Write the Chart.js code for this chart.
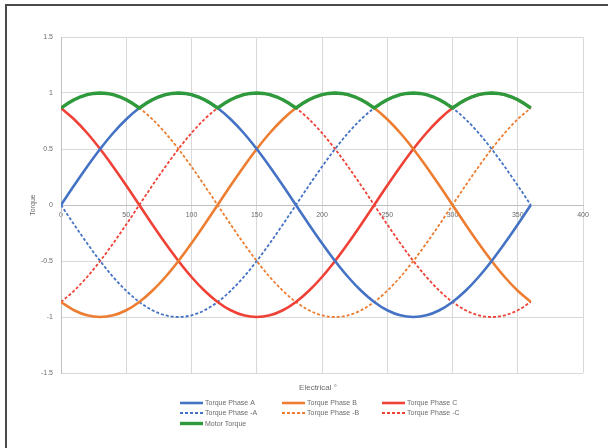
<!DOCTYPE html>
<html>
<head>
<meta charset="utf-8">
<script src="https://cdn.jsdelivr.net/npm/chart.js@4/dist/chart.umd.min.js"></script>
<style>
  html, body { margin: 0; padding: 0; background: #fff; overflow: hidden; }
  #frame { position: absolute; left: 5px; top: 4px; width: 640px; height: 480px;
           border-top: 2px solid #4a4a4a; border-left: 2px solid #4a4a4a; }
  #c { position: absolute; left: 0; top: 0; }
</style>
</head>
<body>
<div id="frame"></div>
<canvas id="c" width="608" height="448"></canvas>
<script>
// electrical angle (degrees)
var angles = [0,10,20,30,40,50,60,70,80,90,100,110,120,130,140,150,160,170,180,
              190,200,210,220,230,240,250,260,270,280,290,300,310,320,330,340,350,360];

var phaseA    = [0,0.174,0.342,0.5,0.643,0.766,0.866,0.94,0.985,1,0.985,0.94,0.866,0.766,0.643,0.5,0.342,0.174,0,
                 -0.174,-0.342,-0.5,-0.643,-0.766,-0.866,-0.94,-0.985,-1,-0.985,-0.94,-0.866,-0.766,-0.643,-0.5,-0.342,-0.174,0];
var phaseB    = [-0.866,-0.94,-0.985,-1,-0.985,-0.94,-0.866,-0.766,-0.643,-0.5,-0.342,-0.174,0,0.174,0.342,0.5,0.643,0.766,0.866,
                 0.94,0.985,1,0.985,0.94,0.866,0.766,0.643,0.5,0.342,0.174,0,-0.174,-0.342,-0.5,-0.643,-0.766,-0.866];
var phaseC    = [0.866,0.766,0.643,0.5,0.342,0.174,0,-0.174,-0.342,-0.5,-0.643,-0.766,-0.866,-0.94,-0.985,-1,-0.985,-0.94,-0.866,
                 -0.766,-0.643,-0.5,-0.342,-0.174,0,0.174,0.342,0.5,0.643,0.766,0.866,0.94,0.985,1,0.985,0.94,0.866];
var phaseNegA = [0,-0.174,-0.342,-0.5,-0.643,-0.766,-0.866,-0.94,-0.985,-1,-0.985,-0.94,-0.866,-0.766,-0.643,-0.5,-0.342,-0.174,0,
                 0.174,0.342,0.5,0.643,0.766,0.866,0.94,0.985,1,0.985,0.94,0.866,0.766,0.643,0.5,0.342,0.174,0];
var phaseNegB = [0.866,0.94,0.985,1,0.985,0.94,0.866,0.766,0.643,0.5,0.342,0.174,0,-0.174,-0.342,-0.5,-0.643,-0.766,-0.866,
                 -0.94,-0.985,-1,-0.985,-0.94,-0.866,-0.766,-0.643,-0.5,-0.342,-0.174,0,0.174,0.342,0.5,0.643,0.766,0.866];
var phaseNegC = [-0.866,-0.766,-0.643,-0.5,-0.342,-0.174,0,0.174,0.342,0.5,0.643,0.766,0.866,0.94,0.985,1,0.985,0.94,0.866,
                 0.766,0.643,0.5,0.342,0.174,0,-0.174,-0.342,-0.5,-0.643,-0.766,-0.866,-0.94,-0.985,-1,-0.985,-0.94,-0.866];

// motor torque read at finer steps so the cusps stay sharp
var motorAngles = [0,5,10,15,20,25,30,35,40,45,50,55,60,65,70,75,80,85,90,95,100,105,110,115,120,
                   125,130,135,140,145,150,155,160,165,170,175,180,185,190,195,200,205,210,215,220,225,230,235,240,
                   245,250,255,260,265,270,275,280,285,290,295,300,305,310,315,320,325,330,335,340,345,350,355,360];
var motorTorque = [0.866,0.906,0.94,0.966,0.985,0.996,1,0.996,0.985,0.966,0.94,0.906,
                   0.866,0.906,0.94,0.966,0.985,0.996,1,0.996,0.985,0.966,0.94,0.906,
                   0.866,0.906,0.94,0.966,0.985,0.996,1,0.996,0.985,0.966,0.94,0.906,
                   0.866,0.906,0.94,0.966,0.985,0.996,1,0.996,0.985,0.966,0.94,0.906,
                   0.866,0.906,0.94,0.966,0.985,0.996,1,0.996,0.985,0.966,0.94,0.906,
                   0.866,0.906,0.94,0.966,0.985,0.996,1,0.996,0.985,0.966,0.94,0.906,0.866];

var names = ["Torque Phase A", "Torque Phase B", "Torque Phase C",
             "Torque Phase -A", "Torque Phase -B", "Torque Phase -C", "Motor Torque"];
var xTitle = "Electrical °";
var yTitle = "Torque";

var blue = '#4472c4', orange = '#ed7d31', red = '#ef4136', green = '#2e9a3c';
var textGray = '#6b6b6b';

function pts(xs, vals) {
  return xs.map(function(a, i) { return { x: a, y: vals[i] }; });
}

function line(label, vals, color, dashed, order) {
  return {
    label: label,
    data: pts(angles, vals),
    borderColor: color,
    backgroundColor: color,
    borderWidth: dashed ? 1.8 : 2.6,
    borderDash: dashed ? [3, 2] : [],
    pointRadius: 0,
    fill: false,
    cubicInterpolationMode: 'monotone',
    order: order
  };
}

var datasets = [
  line(names[0], phaseA, blue, false, 2),
  line(names[1], phaseB, orange, false, 2),
  line(names[2], phaseC, red, false, 2),
  line(names[3], phaseNegA, blue, true, 3),
  line(names[4], phaseNegB, orange, true, 3),
  line(names[5], phaseNegC, red, true, 3),
  {
    label: names[6], data: pts(motorAngles, motorTorque), borderColor: green, backgroundColor: green,
    borderWidth: 3.4, pointRadius: 0, fill: false, tension: 0, borderJoinStyle: 'round', order: 0
  }
];

// x axis title + three-column legend under the plot
var bottomText = {
  id: 'bottomText',
  afterDraw: function(chart) {
    var ctx = chart.ctx, area = chart.chartArea;
    ctx.save();
    ctx.fillStyle = textGray;
    ctx.font = '8px "Liberation Sans", Arial, sans-serif';
    ctx.textAlign = 'center';
    ctx.textBaseline = 'middle';
    ctx.fillText(xTitle, (area.left + area.right) / 2 - 4, 388);

    var cols = [180, 282, 382], rows = [403, 413, 423.5];
    var slots = [[0,0],[1,0],[2,0],[0,1],[1,1],[2,1],[0,2]];
    ctx.font = '7px "Liberation Sans", Arial, sans-serif';
    ctx.textAlign = 'left';
    datasets.forEach(function(ds, i) {
      var x = cols[slots[i][0]], y = rows[slots[i][1]];
      ctx.strokeStyle = ds.borderColor;
      ctx.lineWidth = ds.borderWidth;
      ctx.setLineDash(ds.borderDash || []);
      ctx.beginPath();
      ctx.moveTo(x, y);
      ctx.lineTo(x + 23, y);
      ctx.stroke();
      ctx.setLineDash([]);
      ctx.fillStyle = textGray;
      ctx.fillText(ds.label, x + 25, y + 0.5);
    });
    ctx.restore();
  }
};

var ctx = document.getElementById('c').getContext('2d');
new Chart(ctx, {
  type: 'line',
  data: { datasets: datasets },
  options: {
    responsive: false,
    animation: false,
    layout: { padding: { left: 0, right: 25, top: 37, bottom: 75 } },
    plugins: {
      legend: { display: false },
      tooltip: { enabled: false }
    },
    scales: {
      x: {
        type: 'linear',
        min: 0, max: 400,
        position: { y: 0 },
        ticks: { stepSize: 50, color: textGray, padding: 6,
                 font: { size: 7, family: '"Liberation Sans", Arial, sans-serif' } },
        grid: { color: '#d9d9d9', lineWidth: 1, drawTicks: false },
        border: { color: '#bfbfbf' }
      },
      y: {
        min: -1.5, max: 1.5,
        ticks: { stepSize: 0.5, color: textGray, padding: 8,
                 font: { size: 7, family: '"Liberation Sans", Arial, sans-serif' },
                 callback: function(v) { return String(v); } },
        grid: { color: '#d9d9d9', lineWidth: 1, drawTicks: false },
        border: { color: '#bfbfbf' },
        title: { display: true, text: yTitle, color: textGray, padding: { top: 29, bottom: 0 },
                 font: { size: 7, family: '"Liberation Sans", Arial, sans-serif' } },
        afterFit: function(s) { s.width = 61; }
      }
    }
  },
  plugins: [bottomText]
});
</script>
</body>
</html>
